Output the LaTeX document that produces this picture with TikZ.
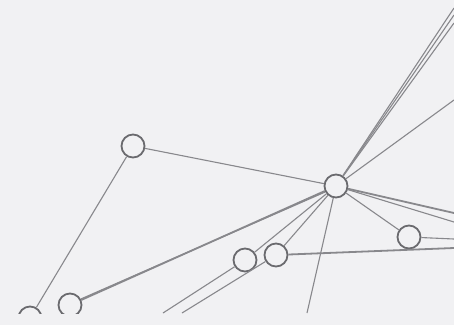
\documentclass[tikz,border=0pt]{standalone}
\definecolor{bg}{HTML}{F1F1F3}
\definecolor{ln}{HTML}{88888C}
\definecolor{nd}{HTML}{6A6A6E}
\begin{document}
\begin{tikzpicture}[x=1pt,y=-1pt,
  nodec/.style={circle,draw=nd,line width=1.8pt,fill=bg,minimum size=23pt,inner sep=0pt},
  link/.style={draw=ln,line width=1.1pt},
  heavylink/.style={draw=ln,line width=1.8pt}]
\fill[bg] (0,0) rectangle (454,325);
\useasboundingbox (0,0) rectangle (454,325);
\begin{scope}
\clip (0,0) rectangle (454,313);
\node[nodec] (A) at (133,146) {};
\node[nodec] (H) at (336,186) {};
\node[nodec] (B) at (409,237) {};
\node[nodec] (C) at (276,255) {};
\node[nodec] (D) at (245,260) {};
\node[nodec] (E) at (70,305) {};
\node[nodec] (F) at (30,318) {};
\coordinate (t1) at (454,8);
\coordinate (t2) at (454,15);
\coordinate (t3) at (454,23);
\coordinate (t4) at (454,100);
\coordinate (r1) at (454,213);
\coordinate (r2) at (454,222);
\coordinate (rb) at (454,239);
\coordinate (rc) at (454,248);
\coordinate (b1) at (163,313);
\coordinate (b2) at (182,313);
\coordinate (b3) at (307,313);
\draw[link] (A) -- (H);
\draw[link] (A) -- (F);
\draw[link] (H) -- (t1);
\draw[link] (H) -- (t2);
\draw[link] (H) -- (t3);
\draw[link] (H) -- (t4);
\draw[heavylink] (H) -- (r1);
\draw[link] (H) -- (r2);
\draw[link] (H) -- (B);
\draw[link] (B) -- (rb);
\draw[heavylink] (C) -- (rc);
\draw[heavylink] (H) -- (E);
\draw[link] (H.209) -- (E.29);
\draw[link] (H) -- (D);
\draw[link] (H) -- (C);
\draw[link] (D) -- (b1);
\draw[link] (C) -- (b2);
\draw[link] (H) -- (b3);
\end{scope}
\end{tikzpicture}
\end{document}
